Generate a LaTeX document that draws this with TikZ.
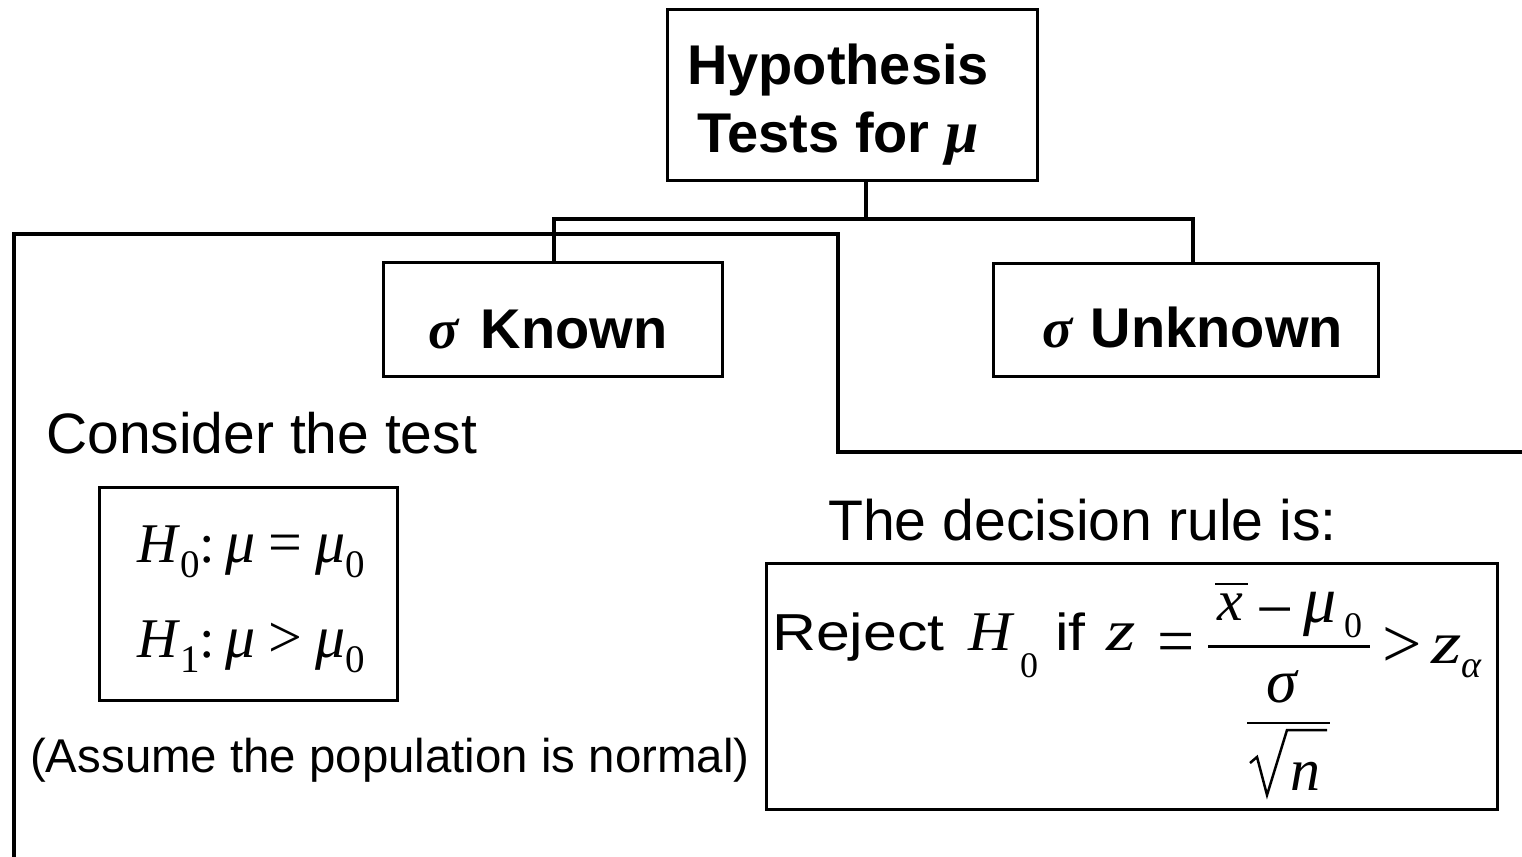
\documentclass[tikz,border=0pt]{standalone}
\usepackage{fontspec}
\setmainfont{Liberation Sans}
\newfontfamily\tms{Liberation Serif}
\newcommand\fs[1]{\fontsize{#1}{#1}\selectfont}
\newcommand\sbx[2]{\raisebox{#1}{\fs{39}#2}}
\newcommand\widen[2]{\scalebox{#1}[1]{#2}}
\begin{document}
\begin{tikzpicture}[x=1pt,y=-1pt,
  box/.style={draw, line width=3pt, inner sep=0pt},
  conn/.style={line width=4pt, line join=miter},
  txt/.style={inner sep=0pt, anchor=base west},
  fracbar/.style={line width=3pt}]
\useasboundingbox (0,0) rectangle (1522,856);
% boxes
\node[box, minimum width=370pt, minimum height=170pt] (top) at (852,95) {};
\node[box, minimum width=339pt, minimum height=114pt] (kn) at (552.5,319) {};
\node[box, minimum width=385pt, minimum height=113pt] (un) at (1185.5,319.5) {};
\node[box, minimum width=298pt, minimum height=213pt] (hyp) at (248,593.5) {};
\node[box, minimum width=731pt, minimum height=246pt] (dec) at (1131.5,686) {};
% connectors
\coordinate (j) at (866,219);
\coordinate (bl) at (554,219);
\coordinate (br) at (1193,219);
\draw[conn] (top.south -| j) -- (j);
\draw[conn] (kn.north -| bl) |- (br) -- (un.north -| br);
\coordinate (b0) at (14,860);
\coordinate (b2) at (838,234);
\coordinate (b4) at (1526,452);
\draw[conn] (b0) |- (b2) |- (b4);
% texts
\node[txt, anchor=base, font=\bfseries\fs{56}] (t1) at (838,85) {Hypothesis};
\node[txt, anchor=base, font=\bfseries\fs{56}] (t2) at (838,152) {Tests for {\tms\itshape\fs{60}μ}};
\node[txt, font=\bfseries\fs{56}] (kt) at (428,348) {{\tms\bfseries\itshape σ}\hspace{7pt} Known};
\node[txt, font=\bfseries\fs{56}] (ut) at (1042,347) {{\tms\bfseries\itshape σ}\hspace{3pt} Unknown};
\node[txt, font=\fs{57}] (ct) at (46,453) {Consider the test};
\node[txt, font=\fs{57.2}] (dr) at (828,540) {The decision rule is:};
\node[txt, font=\fs{47.4}] (as) at (30,772) {(Assume the population is normal)};
% hypotheses
\node[txt, font=\tms\fs{56}] (h0) at (137,562) {\textit{H}\sbx{-15pt}{0}:\hspace{10pt}\textit{\fs{60}μ}\hspace{13pt}{\fs{60}=}\hspace{13pt}\textit{\fs{60}μ}\sbx{-15pt}{0}};
\node[txt, font=\tms\fs{56}] (h1) at (137,657) {\textit{H}\sbx{-15pt}{1}:\hspace{10pt}\textit{\fs{60}μ}\hspace{13pt}{\fs{60}>}\hspace{13pt}\textit{\fs{60}μ}\sbx{-15pt}{0}};
% decision rule
\node[txt, font=\fs{52}] (rj) at (772,650) {\widen{1.17}{Reject}};
\node[txt, font=\tms\itshape\fs{56}] (hh) at (968,650) {\widen{1.08}{H}};
\node[txt, font=\tms\fs{36}] (hhs) at (1020,677) {0};
\node[txt, font=\fs{52}] (iff) at (1055,650) {\widen{1.17}{if}};
\node[txt, font=\tms\itshape\fs{58}] (zz) at (1106,650) {\widen{1.3}{z}};
\node[txt, font=\tms\fs{66}] (eq) at (1157,663) {=};
\node[txt, font=\tms\itshape\fs{58}] (xx) at (1217,620) {x};
\draw[line width=2.5pt] (1215,584) -- (1248,584);
\node[txt, font=\tms\fs{66}] (mn) at (1256,631) {−};
\node[txt, font=\tms\itshape\fs{66}] (mu) at (1303,622) {μ};
\node[txt, font=\tms\fs{36}] (mus) at (1344,637) {0};
\draw[fracbar] (1208,646) -- (1370,646);
\node[txt, font=\tms\fs{70}] (gt) at (1382,667) {>};
\node[txt, font=\tms\itshape\fs{60}] (za) at (1431,663) {\widen{1.3}{z}};
\node[txt, font=\tms\itshape\fs{38}] (al) at (1461,677) {α};
\node[txt, font=\tms\itshape\fs{62}] (sg) at (1266,702) {σ};
\draw[line width=2pt] (1247,723) -- (1330,723);
\draw[line width=2.5pt, line join=miter] (1250,763) -- (1257,757) -- (1267,795) -- (1287,730) -- (1327,730);
\node[txt, font=\tms\itshape\fs{60}] (nn) at (1290,790) {n};
\end{tikzpicture}
\end{document}
